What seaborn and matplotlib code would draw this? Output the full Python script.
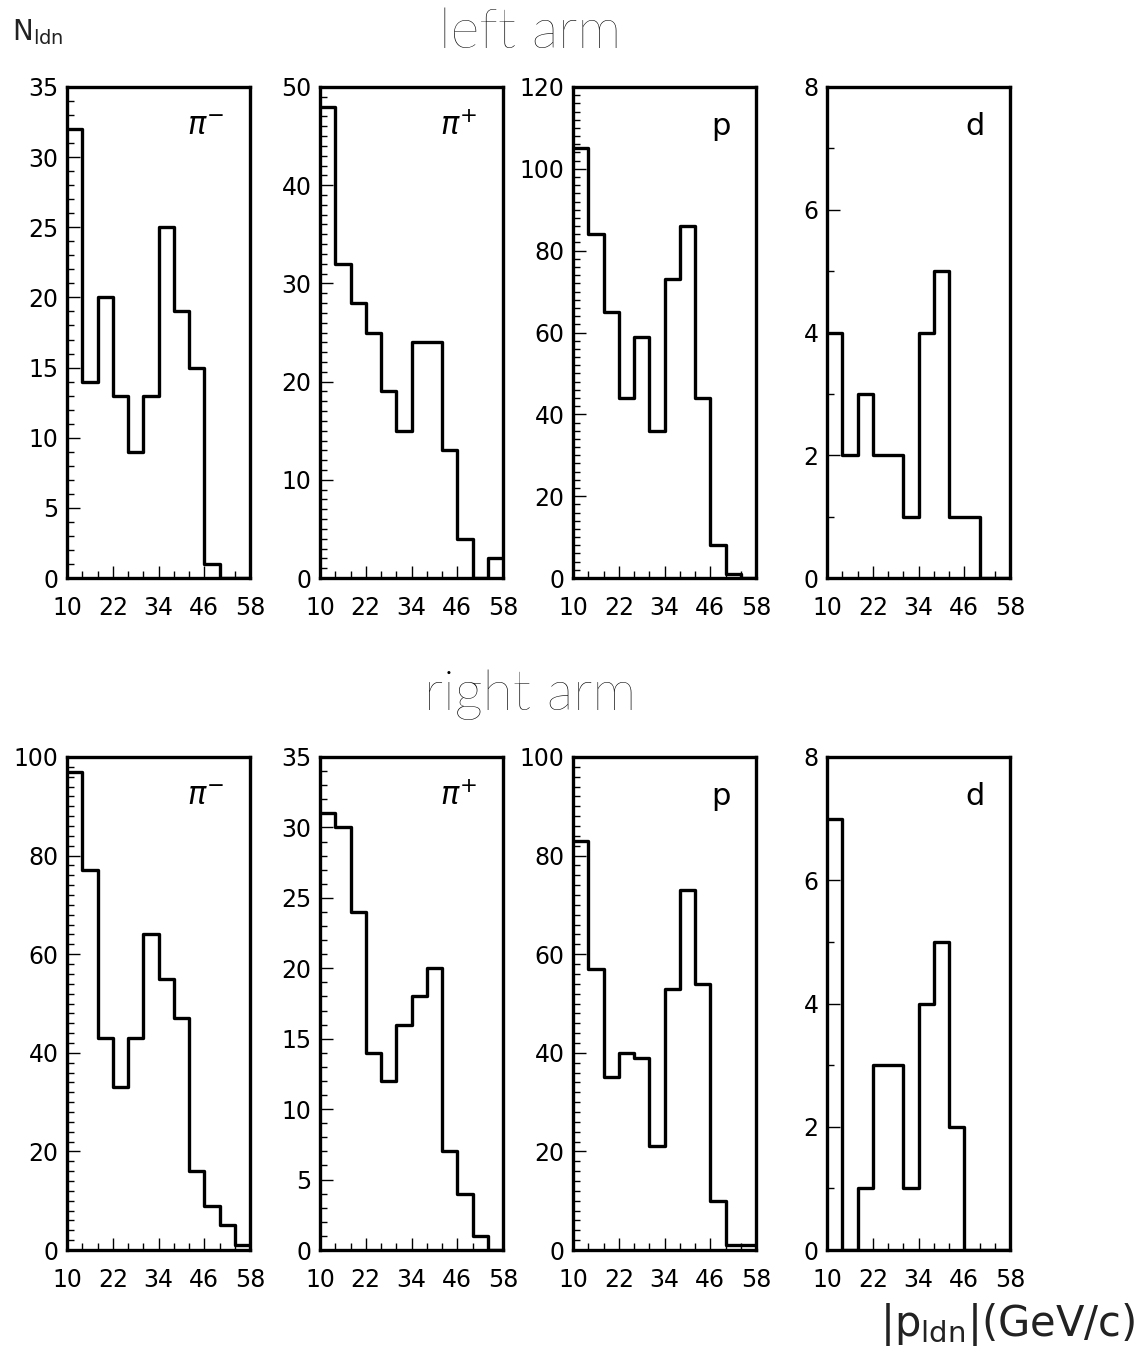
import numpy as np
import pandas as pd
import matplotlib
matplotlib.use("Agg")
import matplotlib.pyplot as plt
from matplotlib.ticker import MultipleLocator, FixedLocator
import seaborn as sns

# ---------------- data ----------------
bin_edges = [10, 14, 18, 22, 26, 30, 34, 38, 42, 46, 50, 54, 58]
x_ticks = [10, 22, 34, 46, 58]
particles = [r"$\pi^{-}$", r"$\pi^{+}$", "p", "d"]

left_pim = [32, 14, 20, 13, 9, 13, 25, 19, 15, 1, 0, 0]
left_pip = [48, 32, 28, 25, 19, 15, 24, 24, 13, 4, 0, 2]
left_p   = [105, 84, 65, 44, 59, 36, 73, 86, 44, 8, 1, 0]
left_d   = [4, 2, 3, 2, 2, 1, 4, 5, 1, 1, 0, 0]

right_pim = [97, 77, 43, 33, 43, 64, 55, 47, 16, 9, 5, 1]
right_pip = [31, 30, 24, 14, 12, 16, 18, 20, 7, 4, 1, 0]
right_p   = [83, 57, 35, 40, 39, 21, 53, 73, 54, 10, 1, 1]
right_d   = [7, 0, 1, 3, 3, 1, 4, 5, 2, 0, 0, 0]

left_ymax = [35, 50, 120, 8]
right_ymax = [100, 35, 100, 8]
left_major = [5, 10, 20, 2]
right_major = [20, 5, 20, 2]
left_minor = [1, 1, 2, 1]
right_minor = [2, 1, 2, 1]

# ---------------- style ----------------
sns.set_theme(style="white")
plt.rcParams["font.family"] = ["DejaVu Sans"]
plt.rcParams["mathtext.fontset"] = "dejavusans"

W, H = 1141, 1358
fig = plt.figure(figsize=(W / 100, H / 100), dpi=100)

ax_lefts = [67, 320, 573, 827]
ax_w = 183
rows = [(87, 578), (757, 1250)]

centers = [(bin_edges[i] + bin_edges[i + 1]) / 2 for i in range(len(bin_edges) - 1)]

all_rows = [
    ([left_pim, left_pip, left_p, left_d], left_ymax, left_major, left_minor),
    ([right_pim, right_pip, right_p, right_d], right_ymax, right_major, right_minor),
]

for r, (series, ymaxes, majors, minors) in enumerate(all_rows):
    top, bot = rows[r]
    for c in range(4):
        x0 = ax_lefts[c]
        ax = fig.add_axes([x0 / W, 1 - bot / H, ax_w / W, (bot - top) / H])
        df = pd.DataFrame({"p": centers, "n": series[c]})
        sns.histplot(data=df, x="p", weights="n", bins=bin_edges, element="step",
                     fill=False, color="black", linewidth=2.4, ax=ax)
        ax.set_xlim(10, 58)
        ax.set_ylim(0, ymaxes[c])
        ax.set_xlabel("")
        ax.set_ylabel("")
        ax.xaxis.set_major_locator(FixedLocator(x_ticks))
        ax.xaxis.set_minor_locator(FixedLocator(bin_edges))
        ax.yaxis.set_major_locator(MultipleLocator(majors[c]))
        ax.yaxis.set_minor_locator(MultipleLocator(minors[c]))
        ax.tick_params(axis="both", which="major", direction="in", length=9,
                       width=1.0, color="black", labelsize=17, labelcolor="black")
        ax.tick_params(axis="both", which="minor", direction="in", length=5,
                       width=1.0, color="black")
        ax.tick_params(axis="y", which="both", left=True, right=False, pad=6)
        ax.tick_params(axis="x", which="both", bottom=True, top=False, pad=13)
        for s in ax.spines.values():
            s.set_visible(True)
            s.set_color("black")
            s.set_linewidth(2.4)
        ax.text(0.86, 0.95, particles[c], transform=ax.transAxes, ha="right", va="top",
                fontsize=22, color="black")

# ---------------- text ----------------
fig.text(530 / W, 1 - 33 / H, "left arm", ha="center", va="center",
         fontsize=40, fontfamily="Lato", fontweight="light", color="black")
fig.text(530 / W, 1 - 695 / H, "right arm", ha="center", va="center",
         fontsize=40, fontfamily="Lato", fontweight="light", color="black")
fig.text(12 / W, 1 - 32 / H, r"N$_{\rm ldn}$", ha="left", va="center",
         fontsize=20, color="#222222")
fig.text(1135 / W, 1 - 1325 / H, r"|p$_{\rm ldn}$|(GeV/c)", ha="right", va="center",
         fontsize=30, color="#222222")

fig.savefig("out.png", dpi=100, facecolor="white")
